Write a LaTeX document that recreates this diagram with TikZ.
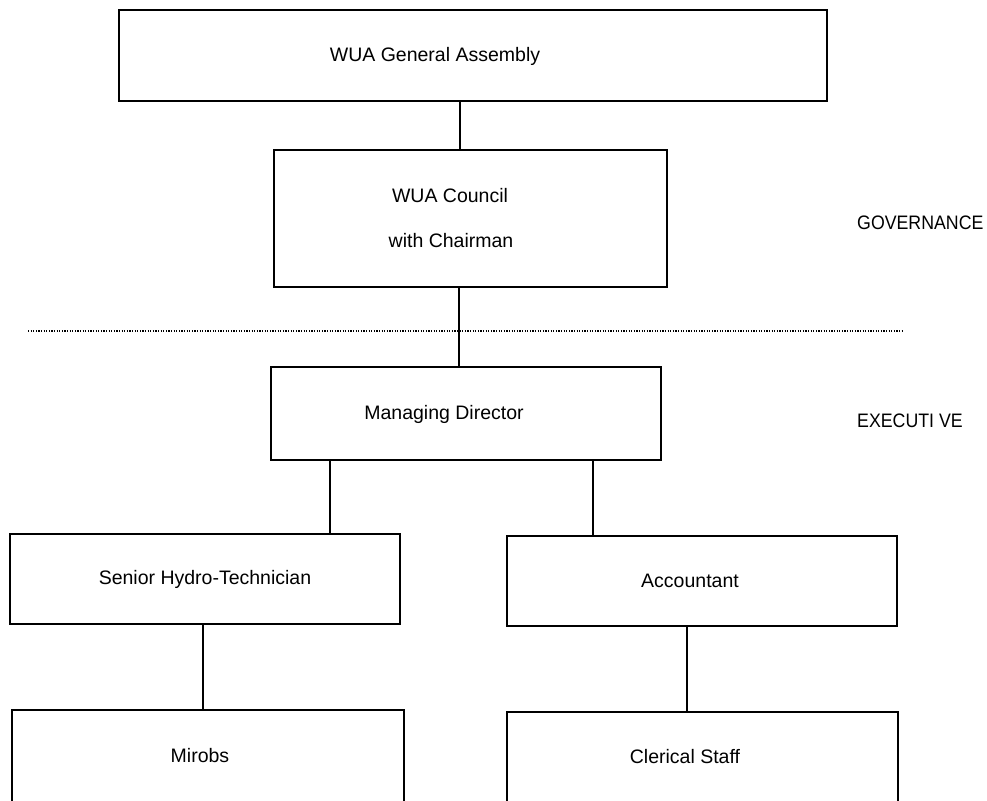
\documentclass[tikz,border=0pt]{standalone}
\usepackage{fontspec}
\setmainfont{Liberation Sans}
\newfontfamily\capsfont{Liberation Sans}[FakeStretch=0.91]
\begin{document}
\begin{tikzpicture}[x=1pt,y=-1pt,
  box/.style={draw, line width=1.6pt, rectangle, inner sep=0pt},
  lbl/.style={inner sep=0pt, anchor=base, font=\fontsize{19.5}{22}\selectfont},
  side/.style={inner sep=0pt, anchor=base west, font=\capsfont\fontsize{19.5}{22}\selectfont},
  conn/.style={line width=1.3pt}]
\useasboundingbox (0,0) rectangle (987,800);
\begin{scope}
\clip (0,0) rectangle (987,800);
\node[box, minimum width=708pt, minimum height=91pt] (ga) at (473,55.5) {};
\node[box, minimum width=393pt, minimum height=137pt] (cn) at (470.5,218.5) {};
\node[box, minimum width=390pt, minimum height=93pt] (md) at (466,413.5) {};
\node[box, minimum width=390pt, minimum height=90pt] (sh) at (205,579) {};
\node[box, minimum width=390pt, minimum height=90pt] (ac) at (702,581) {};
\node[box, minimum width=392pt, minimum height=180pt] (mi) at (208,800) {};
\node[box, minimum width=391pt, minimum height=180pt] (cs) at (702.5,802) {};
\end{scope}
\node[lbl] (tga) at (435,62) {WUA General Assembly};
\node[lbl] (tcn1) at (450,202) {WUA Council};
\node[lbl] (tcn2) at (451,247) {with Chairman};
\node[lbl] (tmd) at (444,419) {Managing Director};
\node[lbl] (tsh) at (205,584) {Senior Hydro-Technician};
\node[lbl] (tac) at (690,587) {Accountant};
\node[lbl] (tmi) at (200,762) {Mirobs};
\node[lbl] (tcs) at (685,763) {Clerical Staff};
\node[side] (gov) at (857,229) {GOVERNANCE};
\node[side] (exe) at (857,427) {EXECUTI VE};
\coordinate (k1) at (460,0);
\coordinate (k2) at (459,0);
\coordinate (k3) at (330,0);
\coordinate (k4) at (593,0);
\coordinate (k5) at (203,0);
\coordinate (k6) at (687,0);
\coordinate (dl) at (28,331);
\coordinate (dr) at (903,331);
\draw[conn] (ga.south -| k1) -- (cn.north -| k1);
\draw[conn] (cn.south -| k2) -- (md.north -| k2);
\draw[conn] (md.south -| k3) -- (sh.north -| k3);
\draw[conn] (md.south -| k4) -- (ac.north -| k4);
\draw[conn] (sh.south -| k5) -- (mi.north -| k5);
\draw[conn] (ac.south -| k6) -- (cs.north -| k6);
\draw[line width=2pt, dash pattern=on 1.2pt off 1.4pt] (dl) -- (dr);
\end{tikzpicture}
\end{document}
